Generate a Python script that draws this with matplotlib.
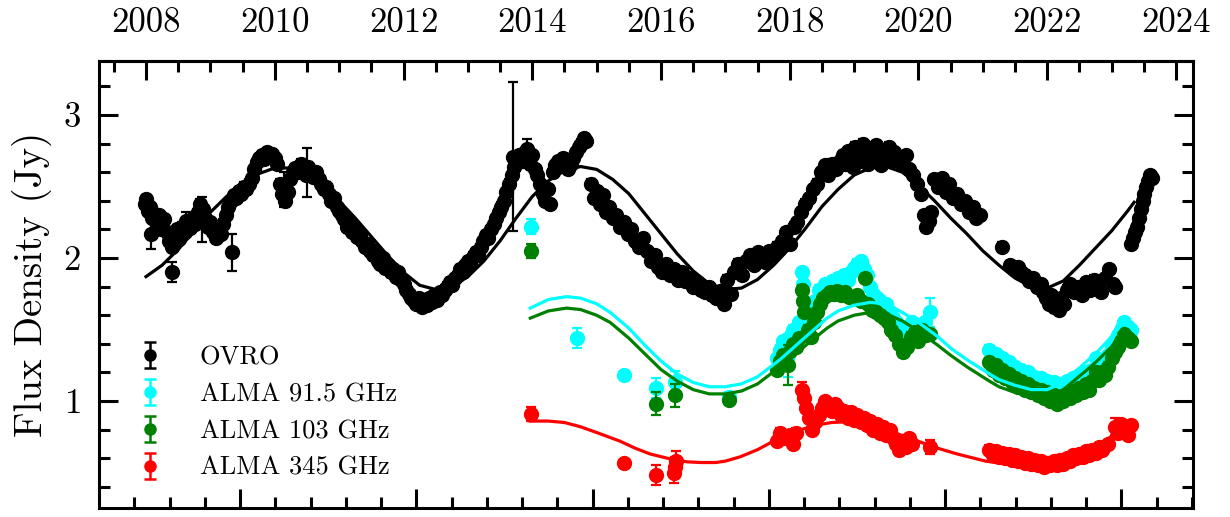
import numpy as np
import matplotlib
matplotlib.use('Agg')
import matplotlib.pyplot as plt
from matplotlib.ticker import FixedLocator, MultipleLocator, NullFormatter

plt.rcParams['font.family'] = 'cmr10'
plt.rcParams['mathtext.fontset'] = 'cm'
plt.rcParams['axes.formatter.use_mathtext'] = True
plt.rcParams['axes.unicode_minus'] = False

# ---- OVRO 15 GHz (decimal year, Jy) ----
ovro_t = [
    2007.98, 2008.00, 2008.03, 2008.06, 2008.09, 2008.12, 2008.16, 2008.20, 2008.24, 2008.28, 2008.32,
    2008.36, 2008.40, 2008.44, 2008.48, 2008.52, 2008.56, 2008.60,
    2008.64, 2008.68, 2008.72, 2008.76, 2008.80, 2008.84,
    2008.88, 2008.92, 2008.96, 2009.00, 2009.04, 2009.08, 2009.12, 2009.16, 2009.20,
    2009.24, 2009.28, 2009.32, 2009.36, 2009.40, 2009.44, 2009.48, 2009.52, 2009.56, 2009.60,
    2009.64, 2009.68, 2009.72, 2009.76, 2009.80, 2009.84, 2009.88, 2009.92, 2009.96, 2010.00,
    2010.04, 2010.08, 2010.12, 2010.16, 2010.20, 2010.24, 2010.28,
    2010.32, 2010.36, 2010.40, 2010.44, 2010.48, 2010.52, 2010.56, 2010.60, 2010.64, 2010.68,
    2010.72, 2010.76, 2010.80, 2010.84, 2010.88, 2010.92, 2010.96, 2011.00,
    2011.04, 2011.08, 2011.12, 2011.16, 2011.20, 2011.24, 2011.28, 2011.32, 2011.36, 2011.40, 2011.44, 2011.48,
    2011.52, 2011.56, 2011.60, 2011.64, 2011.68, 2011.72, 2011.76, 2011.80, 2011.84, 2011.88, 2011.92, 2011.96, 2012.00,
    2012.04, 2012.08, 2012.12, 2012.16, 2012.20, 2012.24, 2012.28, 2012.32, 2012.36, 2012.40, 2012.44, 2012.48, 2012.52, 2012.56, 2012.60,
    2012.64, 2012.68, 2012.72, 2012.76, 2012.80, 2012.84, 2012.88, 2012.92, 2012.96, 2013.00, 2013.04, 2013.08, 2013.12, 2013.16, 2013.20,
    2013.24, 2013.28, 2013.32, 2013.36, 2013.40, 2013.44, 2013.48, 2013.52, 2013.56, 2013.60, 2013.64, 2013.68,
    2013.72, 2013.76, 2013.80, 2013.84, 2013.88, 2013.92, 2013.96, 2014.00,
    2014.04, 2014.08, 2014.12, 2014.16, 2014.20, 2014.24, 2014.28, 2014.32,
    2014.36, 2014.40, 2014.44, 2014.48, 2014.52, 2014.56, 2014.60,
    2014.64, 2014.68, 2014.72, 2014.76, 2014.80, 2014.84,
    2014.92, 2014.96, 2015.00, 2015.05, 2015.10, 2015.15, 2015.20, 2015.25,
    2015.30, 2015.36, 2015.42, 2015.48, 2015.54, 2015.60, 2015.66, 2015.72, 2015.78,
    2015.84, 2015.90, 2015.96, 2016.02, 2016.08, 2016.14, 2016.20, 2016.26,
    2016.32, 2016.38, 2016.44, 2016.50, 2016.56, 2016.62, 2016.68, 2016.74, 2016.80, 2016.86, 2016.92, 2016.98,
    2017.02, 2017.08, 2017.14, 2017.20, 2017.26,
    2017.32, 2017.38, 2017.44, 2017.50, 2017.56, 2017.62, 2017.68, 2017.74, 2017.80, 2017.84,
    2017.88, 2017.94, 2018.00, 2018.06,
    2018.12, 2018.18, 2018.24, 2018.30, 2018.36, 2018.42,
    2018.48, 2018.54, 2018.60, 2018.66, 2018.72, 2018.78,
    2018.82, 2018.86, 2018.90, 2018.94, 2018.98, 2019.02, 2019.06, 2019.10, 2019.14, 2019.18,
    2019.22, 2019.26, 2019.30, 2019.34, 2019.38, 2019.42, 2019.46, 2019.50, 2019.54, 2019.58,
    2019.62, 2019.68, 2019.74, 2019.80, 2019.86, 2019.92, 2019.98, 2020.04, 2020.08, 2020.12, 2020.16, 2020.20,
    2020.24, 2020.30, 2020.36, 2020.42, 2020.48, 2020.54, 2020.60, 2020.66, 2020.72, 2020.78, 2020.84, 2020.90, 2020.96,
    2021.29,
    2021.42, 2021.48, 2021.54, 2021.60, 2021.66, 2021.72,
    2021.78, 2021.84, 2021.90, 2021.94, 2021.98, 2022.02, 2022.06, 2022.10, 2022.14, 2022.18, 2022.22, 2022.26,
    2022.30, 2022.36, 2022.42, 2022.48, 2022.54, 2022.60, 2022.66, 2022.72, 2022.78, 2022.84, 2022.90, 2022.96, 2023.02, 2023.06,
    2023.30, 2023.33, 2023.36, 2023.39, 2023.42, 2023.45, 2023.48, 2023.51, 2023.54, 2023.57, 2023.60, 2023.62,
]
ovro_f = [
    2.38, 2.41, 2.33, 2.36, 2.28, 2.31, 2.25, 2.30, 2.20, 2.27, 2.18,
    2.12, 2.08, 2.15, 2.20, 2.13, 2.22, 2.18,
    2.25, 2.21, 2.27, 2.24, 2.32, 2.38,
    2.34, 2.28, 2.22, 2.25, 2.18, 2.14, 2.20, 2.17, 2.24,
    2.30, 2.36, 2.40, 2.44, 2.42, 2.47, 2.45, 2.50, 2.48, 2.52,
    2.56, 2.62, 2.67, 2.70, 2.72, 2.69, 2.74, 2.71, 2.73, 2.70,
    2.66, 2.52, 2.45, 2.40, 2.46, 2.55, 2.60,
    2.63, 2.60, 2.66, 2.62, 2.58, 2.64, 2.61, 2.57, 2.60, 2.55,
    2.52, 2.48, 2.50, 2.45, 2.40, 2.42, 2.36, 2.33,
    2.30, 2.27, 2.22, 2.25, 2.18, 2.20, 2.15, 2.17, 2.12, 2.08, 2.10, 2.05,
    2.02, 2.05, 1.98, 1.96, 2.00, 1.93, 1.95, 1.90, 1.92, 1.87, 1.90, 1.85, 1.82,
    1.78, 1.75, 1.72, 1.70, 1.68, 1.72, 1.66, 1.70, 1.67, 1.72, 1.69, 1.74, 1.71, 1.76, 1.74,
    1.78, 1.80, 1.83, 1.81, 1.86, 1.88, 1.92, 1.90, 1.95, 1.98, 1.96, 2.01, 2.04, 2.02, 2.08,
    2.12, 2.16, 2.14, 2.20, 2.24, 2.28, 2.32, 2.36, 2.40, 2.46, 2.52, 2.58,
    2.64, 2.70, 2.72, 2.68, 2.74, 2.70, 2.66, 2.72,
    2.62, 2.58, 2.52, 2.45, 2.40, 2.48, 2.38, 2.60,
    2.65, 2.68, 2.66, 2.70, 2.64, 2.62, 2.66,
    2.70, 2.74, 2.78, 2.80, 2.84, 2.82,
    2.52, 2.42, 2.47, 2.38, 2.44, 2.32, 2.36, 2.28,
    2.30, 2.22, 2.25, 2.17, 2.20, 2.12, 2.08, 2.14, 2.05,
    1.98, 2.02, 1.94, 1.90, 1.96, 1.88, 1.92, 1.85,
    1.90, 1.84, 1.86, 1.80, 1.83, 1.78, 1.76, 1.80, 1.74, 1.72, 1.77, 1.68,
    1.85, 1.75, 1.90, 1.96, 1.88,
    1.98, 2.02, 1.95, 2.04, 2.00, 1.97, 2.05, 2.02, 2.08, 2.06,
    2.12, 2.18, 2.10, 2.22,
    2.25, 2.32, 2.38, 2.42, 2.48, 2.52,
    2.60, 2.65, 2.58, 2.66, 2.62, 2.68,
    2.72, 2.66, 2.75, 2.70, 2.64, 2.78, 2.73, 2.68, 2.80, 2.74,
    2.66, 2.76, 2.70, 2.79, 2.72, 2.65, 2.75, 2.71, 2.78, 2.68,
    2.74, 2.70, 2.66, 2.72, 2.62, 2.58, 2.52, 2.45, 2.30, 2.22, 2.26, 2.32,
    2.55, 2.50, 2.56, 2.46, 2.52, 2.42, 2.45, 2.38, 2.40, 2.32, 2.36, 2.28, 2.30,
    2.08,
    1.95, 1.92, 1.94, 1.90, 1.88, 1.84,
    1.86, 1.80, 1.82, 1.76, 1.72, 1.68, 1.74, 1.66, 1.70, 1.64, 1.72, 1.68,
    1.78, 1.82, 1.76, 1.80, 1.74, 1.83, 1.78, 1.85, 1.80, 1.76, 1.86, 1.92, 1.82, 1.80,
    2.10, 2.14, 2.18, 2.22, 2.28, 2.34, 2.40, 2.45, 2.50, 2.54, 2.58, 2.56,
]
ovro_err = 0.03
# OVRO points with visible error bars
ovro_big_t = [2008.07, 2008.40, 2008.62, 2008.87, 2009.34, 2010.14, 2010.50, 2013.70, 2013.92]
ovro_big_f = [2.17, 1.90, 2.26, 2.27, 2.04, 2.48, 2.60, 2.71, 2.76]
ovro_big_e = [0.11, 0.07, 0.06, 0.16, 0.13, 0.12, 0.17, 0.52, 0.07]

alma_err = 0.03

# ---- ALMA 91.5 GHz ----
a91_sparse_t = [2013.98, 2014.70, 2015.42, 2015.93, 2016.22, 2017.05, 2017.97, 2020.18]
a91_sparse_f = [2.22, 1.44, 1.18, 1.09, 1.13, 1.03, 1.32, 1.62]
a91_sparse_e = [0.05, 0.07, 0.03, 0.07, 0.08, 0.03, 0.15, 0.10]
a91_t = [2017.80, 2017.85, 2017.90, 2018.00, 2018.05, 2018.10, 2018.15, 2018.19, 2018.21, 2018.25,
         2018.30, 2018.35, 2018.40, 2018.45, 2018.50, 2018.55, 2018.60, 2018.65, 2018.70, 2018.75,
         2018.80, 2018.85, 2018.90, 2018.95, 2019.00, 2019.05, 2019.10, 2019.15, 2019.20, 2019.25,
         2019.30, 2019.35, 2019.40, 2019.45, 2019.50, 2019.55, 2019.60, 2019.65, 2019.70, 2019.75,
         2019.80, 2019.85, 2019.90, 2019.95, 2020.00, 2020.05, 2020.10,
         2021.10, 2021.15, 2021.20, 2021.25, 2021.30, 2021.35, 2021.40, 2021.45, 2021.50, 2021.55,
         2021.60, 2021.65, 2021.70, 2021.75, 2021.80, 2021.85, 2021.90, 2021.95, 2022.00, 2022.05,
         2022.10, 2022.15, 2022.20, 2022.25, 2022.30, 2022.35, 2022.40, 2022.45, 2022.50, 2022.55,
         2022.60, 2022.65, 2022.70, 2022.75, 2022.80, 2022.85, 2022.90, 2022.95, 2023.00, 2023.05,
         2023.10, 2023.15, 2023.20, 2023.25, 2023.30]
a91_f = [1.30, 1.36, 1.42, 1.45, 1.50, 1.46, 1.55, 1.90, 1.82, 1.62,
         1.55, 1.60, 1.70, 1.78, 1.76, 1.82, 1.80, 1.84, 1.82, 1.86,
         1.84, 1.88, 1.85, 1.90, 1.93, 1.96, 1.98, 1.92, 1.88, 1.80,
         1.75, 1.72, 1.70, 1.66, 1.68, 1.62, 1.58, 1.55, 1.50, 1.45,
         1.52, 1.48, 1.55, 1.50, 1.46, 1.52, 1.55,
         1.36, 1.30, 1.33, 1.28, 1.30, 1.25, 1.27, 1.22, 1.24, 1.20,
         1.22, 1.18, 1.20, 1.15, 1.17, 1.13, 1.16, 1.12, 1.14, 1.10,
         1.13, 1.09, 1.12, 1.10, 1.14, 1.11, 1.16, 1.13, 1.18, 1.15,
         1.20, 1.17, 1.22, 1.30, 1.24, 1.28, 1.26, 1.32, 1.38, 1.42,
         1.46, 1.50, 1.55, 1.52, 1.50]

# ---- ALMA 103 GHz ----
a103_sparse_t = [2013.98, 2015.93, 2016.22, 2017.05, 2017.97]
a103_sparse_f = [2.05, 0.98, 1.04, 1.01, 1.25]
a103_sparse_e = [0.05, 0.08, 0.08, 0.03, 0.14]
a103_t = [2017.80, 2017.85, 2017.90, 2018.00, 2018.05, 2018.10, 2018.15, 2018.19, 2018.20, 2018.22,
          2018.28, 2018.33, 2018.38, 2018.42, 2018.47, 2018.52, 2018.58, 2018.63, 2018.68, 2018.74,
          2018.80, 2018.86, 2018.92, 2018.98, 2019.04, 2019.10, 2019.17, 2019.22, 2019.28, 2019.34,
          2019.40, 2019.46, 2019.52, 2019.58, 2019.64, 2019.70, 2019.76, 2019.82, 2019.88, 2019.94,
          2020.00, 2020.06, 2020.12, 2020.18,
          2021.10, 2021.15, 2021.20, 2021.25, 2021.30, 2021.35, 2021.40, 2021.45, 2021.50, 2021.55,
          2021.60, 2021.65, 2021.70, 2021.75, 2021.80, 2021.85, 2021.90, 2021.95, 2022.00, 2022.05,
          2022.10, 2022.15, 2022.20, 2022.25, 2022.30, 2022.35, 2022.40, 2022.45, 2022.50, 2022.55,
          2022.60, 2022.65, 2022.70, 2022.75, 2022.80, 2022.85, 2022.90, 2022.95, 2023.00, 2023.05,
          2023.10, 2023.15, 2023.20, 2023.25, 2023.30]
a103_f = [1.22, 1.28, 1.32, 1.35, 1.40, 1.38, 1.44, 1.78, 1.70, 1.62,
          1.50, 1.45, 1.55, 1.62, 1.68, 1.72, 1.74, 1.76, 1.75, 1.77,
          1.74, 1.76, 1.73, 1.72, 1.74, 1.70, 1.86, 1.68, 1.64, 1.62,
          1.60, 1.58, 1.55, 1.50, 1.46, 1.40, 1.34, 1.38, 1.45, 1.48,
          1.42, 1.50, 1.46, 1.47,
          1.27, 1.22, 1.25, 1.18, 1.22, 1.16, 1.19, 1.13, 1.16, 1.10,
          1.14, 1.08, 1.12, 1.06, 1.09, 1.04, 1.08, 1.02, 1.06, 1.00,
          1.04, 0.98, 1.03, 1.00, 1.05, 1.02, 1.07, 1.04, 1.09, 1.06,
          1.12, 1.08, 1.14, 1.20, 1.15, 1.20, 1.18, 1.24, 1.30, 1.34,
          1.38, 1.42, 1.47, 1.44, 1.42]

# ---- ALMA 345 GHz ----
a345_sparse_t = [2013.98, 2015.42, 2015.93, 2016.20, 2016.22, 2016.24, 2017.97, 2018.19, 2020.18, 2023.05, 2023.20]
a345_sparse_f = [0.91, 0.57, 0.48, 0.50, 0.54, 0.58, 0.75, 1.08, 0.68, 0.82, 0.80]
a345_sparse_e = [0.05, 0.02, 0.07, 0.07, 0.07, 0.07, 0.05, 0.05, 0.05, 0.06, 0.06]
a345_t = [2017.80, 2017.85, 2017.90, 2018.00, 2018.05, 2018.10, 2018.22, 2018.25,
          2018.30, 2018.35, 2018.40, 2018.45, 2018.50, 2018.55, 2018.60, 2018.65, 2018.70, 2018.75,
          2018.80, 2018.85, 2018.90, 2018.95, 2019.00, 2019.05, 2019.10, 2019.15, 2019.20, 2019.25,
          2019.30, 2019.35, 2019.40, 2019.45, 2019.50, 2019.55, 2019.60, 2019.65, 2019.70, 2019.75,
          2019.80, 2019.85, 2019.90,
          2021.10, 2021.15, 2021.20, 2021.25, 2021.30, 2021.35, 2021.40, 2021.45, 2021.50, 2021.55,
          2021.60, 2021.65, 2021.70, 2021.75, 2021.80, 2021.85, 2021.90, 2021.95, 2022.00, 2022.05,
          2022.10, 2022.15, 2022.20, 2022.25, 2022.30, 2022.35, 2022.40, 2022.45, 2022.50, 2022.55,
          2022.60, 2022.65, 2022.70, 2022.75, 2022.80, 2022.85,
          2022.95, 2023.10, 2023.15, 2023.25, 2023.30]
a345_f = [0.72, 0.78, 0.74, 0.76, 0.70, 0.78, 1.02, 0.95,
          0.88, 0.80, 0.85, 0.90, 0.95, 1.00, 0.97, 0.93, 0.98, 0.95,
          0.90, 0.93, 0.88, 0.92, 0.87, 0.90, 0.85, 0.88, 0.83, 0.86,
          0.80, 0.84, 0.78, 0.82, 0.76, 0.80, 0.74, 0.70, 0.66, 0.72,
          0.68, 0.74, 0.70,
          0.66, 0.62, 0.65, 0.61, 0.64, 0.60, 0.63, 0.59, 0.62, 0.58,
          0.61, 0.57, 0.60, 0.56, 0.59, 0.55, 0.58, 0.54, 0.57, 0.55,
          0.58, 0.55, 0.59, 0.56, 0.60, 0.58, 0.62, 0.60, 0.63, 0.61,
          0.65, 0.62, 0.66, 0.64, 0.68, 0.66,
          0.70, 0.78, 0.84, 0.76, 0.83]

# ---- model curves ----
fit_ovro_t = [2008.00, 2008.25, 2008.50, 2008.75, 2009.00, 2009.25, 2009.50, 2009.75, 2010.00, 2010.25,
              2010.50, 2010.75, 2011.00, 2011.25, 2011.50, 2011.75, 2012.00, 2012.25, 2012.50, 2012.75,
              2013.00, 2013.25, 2013.50, 2013.75, 2014.00, 2014.25, 2014.50, 2014.75, 2015.00, 2015.25,
              2015.50, 2015.75, 2016.00, 2016.25, 2016.50, 2016.75, 2017.00, 2017.25, 2017.50, 2017.75,
              2018.00, 2018.25, 2018.50, 2018.75, 2019.00, 2019.25, 2019.50, 2019.75, 2020.00, 2020.25,
              2020.50, 2020.75, 2021.00, 2021.25, 2021.50, 2021.75, 2022.00, 2022.25, 2022.50, 2022.75,
              2023.00, 2023.25, 2023.35]
fit_ovro_f = [1.87, 1.95, 2.06, 2.19, 2.32, 2.43, 2.52, 2.59, 2.63, 2.63,
              2.58, 2.50, 2.40, 2.28, 2.15, 2.02, 1.90, 1.81, 1.78, 1.80,
              1.87, 1.98, 2.12, 2.28, 2.43, 2.54, 2.61, 2.64, 2.62, 2.55,
              2.45, 2.31, 2.17, 2.03, 1.91, 1.82, 1.78, 1.79, 1.85, 1.95,
              2.07, 2.21, 2.36, 2.48, 2.58, 2.63, 2.64, 2.60, 2.51, 2.40,
              2.28, 2.17, 2.05, 1.95, 1.86, 1.80, 1.79, 1.84, 1.95, 2.07,
              2.19, 2.33, 2.39]

fit_alma_t = [2013.97, 2014.25, 2014.53, 2014.75, 2015.00, 2015.21, 2015.50, 2015.75, 2016.00, 2016.25,
              2016.50, 2016.75, 2017.00, 2017.25, 2017.50, 2017.85, 2018.00, 2018.25, 2018.58, 2018.75,
              2019.00, 2019.25, 2019.50, 2019.75, 2020.00, 2020.30, 2020.50, 2020.75, 2021.10, 2021.25,
              2021.50, 2021.75, 2022.00, 2022.25, 2022.57, 2022.75, 2023.00, 2023.13]
fit_a91_f = [1.65, 1.71, 1.73, 1.72, 1.68, 1.62, 1.51, 1.39, 1.28, 1.19,
             1.13, 1.10, 1.10, 1.12, 1.17, 1.29, 1.35, 1.45, 1.58, 1.63,
             1.67, 1.69, 1.68, 1.62, 1.55, 1.45, 1.37, 1.29, 1.19, 1.15,
             1.11, 1.08, 1.08, 1.13, 1.26, 1.33, 1.45, 1.52]
fit_a103_f = [1.58, 1.63, 1.65, 1.64, 1.60, 1.55, 1.44, 1.33, 1.22, 1.14,
              1.08, 1.05, 1.05, 1.07, 1.12, 1.24, 1.29, 1.39, 1.51, 1.56,
              1.60, 1.62, 1.61, 1.56, 1.49, 1.39, 1.32, 1.24, 1.14, 1.10,
              1.06, 1.03, 1.03, 1.08, 1.20, 1.27, 1.38, 1.45]
fit_a345_t = [2013.97, 2014.25, 2014.50, 2014.75, 2015.00, 2015.36, 2015.60, 2015.83, 2016.10, 2016.40,
              2016.62, 2016.85, 2017.00, 2017.23, 2017.50, 2017.79, 2018.10, 2018.40, 2018.65, 2018.89,
              2019.10, 2019.30, 2019.50, 2019.80, 2020.05, 2020.30, 2020.60, 2021.04, 2021.35, 2021.66,
              2021.95, 2022.27, 2022.55, 2022.88, 2023.13]
fit_a345_f = [0.86, 0.86, 0.85, 0.82, 0.78, 0.72, 0.67, 0.63, 0.60, 0.575,
              0.57, 0.57, 0.58, 0.61, 0.66, 0.73, 0.79, 0.83, 0.85, 0.855,
              0.85, 0.83, 0.80, 0.75, 0.71, 0.67, 0.63, 0.58, 0.56, 0.55,
              0.56, 0.60, 0.65, 0.72, 0.79]

year_ticks = [2008, 2010, 2012, 2014, 2016, 2018, 2020, 2022, 2024]

# bottom axis ticks are in MJD
mjd_minor = np.arange(54400, 60401, 200)
mjd_major = np.arange(55000, 60001, 1000)


def mjd_to_year(m):
    return 2000.0 + (np.asarray(m) - 51544.5) / 365.25


fig = plt.figure(figsize=(12.3, 5.17), dpi=100)
ax = fig.add_axes([0.0805, 0.0174, 0.8894, 0.8646])

eb = dict(fmt='o', ms=10, elinewidth=1.6, capsize=3.5, capthick=1.6)

ax.errorbar(ovro_t, ovro_f, yerr=ovro_err, color='black', zorder=2, **eb)
ax.errorbar(ovro_big_t, ovro_big_f, yerr=ovro_big_e, color='black', zorder=2, **eb)
ax.errorbar(a91_t, a91_f, yerr=alma_err, color='cyan', zorder=3, **eb)
ax.errorbar(a91_sparse_t, a91_sparse_f, yerr=a91_sparse_e, color='cyan', zorder=3, **eb)
ax.errorbar(a103_t, a103_f, yerr=alma_err, color='green', zorder=4, **eb)
ax.errorbar(a103_sparse_t, a103_sparse_f, yerr=a103_sparse_e, color='green', zorder=4, **eb)
ax.errorbar(a345_t, a345_f, yerr=alma_err, color='red', zorder=5, **eb)
ax.errorbar(a345_sparse_t, a345_sparse_f, yerr=a345_sparse_e, color='red', zorder=5, **eb)

lw = 2.3
ax.plot(fit_ovro_t, fit_ovro_f, color='black', lw=lw, zorder=6)
ax.plot(fit_alma_t, fit_a91_f, color='cyan', lw=lw, zorder=6)
ax.plot(fit_alma_t, fit_a103_f, color='green', lw=lw, zorder=6)
ax.plot(fit_a345_t, fit_a345_f, color='red', lw=lw, zorder=6)

# legend handles (NaN points so nothing is drawn in the axes)
leg_eb = dict(fmt='o', ms=8, elinewidth=1.8, capsize=4, capthick=1.8)
h_ovro = ax.errorbar([np.nan], [np.nan], yerr=[0.1], color='black', label='OVRO', **leg_eb)
h_91 = ax.errorbar([np.nan], [np.nan], yerr=[0.1], color='cyan', label='ALMA 91.5 GHz', **leg_eb)
h_103 = ax.errorbar([np.nan], [np.nan], yerr=[0.1], color='green', label='ALMA 103 GHz', **leg_eb)
h_345 = ax.errorbar([np.nan], [np.nan], yerr=[0.1], color='red', label='ALMA 345 GHz', **leg_eb)
ax.legend(handles=[h_ovro, h_91, h_103, h_345], loc='upper left',
          bbox_to_anchor=(0.015, 0.405), frameon=False, fontsize=19,
          handlelength=1.2, handletextpad=1.3, labelspacing=0.5, borderpad=0.2)

ax.set_xlim(2007.27, 2024.264)
ax.set_ylim(0.252, 3.378)

ax.xaxis.set_major_locator(FixedLocator(mjd_to_year(mjd_major)))
ax.xaxis.set_minor_locator(FixedLocator(mjd_to_year(mjd_minor)))
ax.xaxis.set_major_formatter(NullFormatter())
ax.yaxis.set_major_locator(MultipleLocator(1))
ax.yaxis.set_minor_locator(MultipleLocator(0.2))

ax.tick_params(axis='x', which='both', direction='in', bottom=True, top=False)
ax.tick_params(axis='y', which='both', direction='in', left=True, right=True, labelsize=25, pad=13)
ax.tick_params(which='major', length=14, width=2.2)
ax.tick_params(which='minor', length=8, width=2.2)

secx = ax.secondary_xaxis('top')
secx.xaxis.set_major_locator(FixedLocator(year_ticks))
secx.xaxis.set_minor_locator(FixedLocator(np.arange(2007.5, 2024.3, 0.5)))
secx.set_xticklabels([str(y) for y in year_ticks])
secx.tick_params(which='both', direction='in', labelsize=25, pad=16)
secx.tick_params(which='major', length=14, width=2.2)
secx.tick_params(which='minor', length=8, width=2.2)
secx.spines['top'].set_linewidth(2.2)

for s in ax.spines.values():
    s.set_linewidth(2.2)

ax.set_ylabel('Flux Density (Jy)', fontsize=28, labelpad=8)

fig.savefig('out.png', dpi=100)
